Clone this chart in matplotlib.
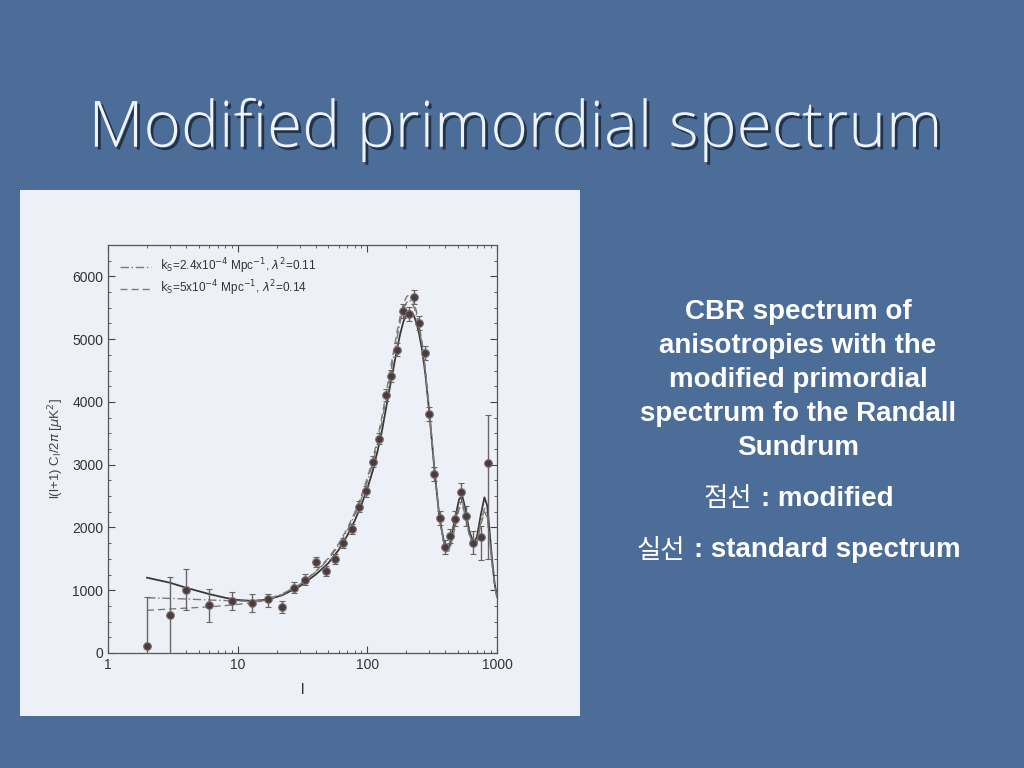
import matplotlib
matplotlib.use('Agg')
import matplotlib.pyplot as plt
import matplotlib.patheffects as pe
from matplotlib.ticker import MultipleLocator, FixedLocator, NullFormatter
import numpy as np

# measured band powers (l, value, lower err, upper err)
ell_pts = [2, 3, 4, 6, 9, 13, 17, 22, 27, 33, 40, 48, 56, 65, 76, 87, 98,
           111, 124, 140, 153, 169, 190, 209, 230, 250, 277, 301, 329, 361,
           398, 435, 476, 530, 580, 656, 748, 847]
pow_pts = [112, 603, 1005, 763, 829, 792, 857, 738, 1038, 1167, 1447, 1300,
           1500, 1750, 1975, 2333, 2575, 3049, 3415, 4109, 4414, 4831, 5447,
           5404, 5677, 5260, 4778, 3804, 2852, 2146, 1685, 1862, 2141, 2558,
           2183, 1756, 1852, 3024]
err_lo = [112, 603, 315, 263, 144, 144, 119, 96, 90, 90, 80, 80, 80, 80, 80,
          90, 90, 90, 90, 100, 100, 100, 110, 110, 110, 110, 110, 110, 110,
          110, 110, 110, 120, 150, 160, 180, 370, 1530]
err_hi = [780, 610, 335, 257, 141, 145, 90, 92, 90, 90, 80, 80, 80, 80, 80,
          90, 90, 90, 90, 100, 100, 100, 110, 110, 110, 110, 110, 110, 110,
          110, 110, 110, 120, 150, 160, 180, 170, 760]

# model curves
ell_curve = [2, 3, 4, 6, 8, 10, 13, 17, 22, 30, 40, 50, 60, 70, 80, 90, 100,
             110, 120, 130, 140, 150, 160, 170, 180, 190, 200, 210, 220, 230,
             240, 250, 265, 280, 300, 330, 360, 400, 430, 470, 510, 540, 570,
             610, 660, 700, 750, 800, 840, 880, 920, 960, 1000]
std_curve = [1200, 1120, 1040, 940, 880, 845, 830, 850, 920, 1060, 1250, 1430,
             1640, 1870, 2110, 2360, 2620, 2900, 3220, 3550, 3920, 4260, 4570,
             4860, 5100, 5280, 5400, 5450, 5430, 5360, 5250, 5100, 4820, 4450,
             3850, 2900, 2150, 1650, 1700, 2100, 2450, 2500, 2300, 1950, 1750,
             1850, 2200, 2480, 2350, 1900, 1450, 1100, 900]
ks24_curve = [880, 870, 860, 845, 835, 830, 825, 860, 940, 1090, 1290, 1490,
              1710, 1950, 2200, 2460, 2730, 3020, 3350, 3700, 4070, 4420, 4740,
              5040, 5290, 5470, 5580, 5620, 5590, 5500, 5370, 5200, 4900, 4500,
              3880, 2910, 2150, 1620, 1650, 2000, 2350, 2400, 2230, 1900, 1700,
              1780, 2080, 2300, 2200, 1800, 1400, 1080, 880]
ks50_curve = [680, 700, 715, 735, 755, 775, 800, 845, 930, 1085, 1300, 1510,
              1740, 1980, 2240, 2510, 2790, 3080, 3420, 3780, 4150, 4500, 4830,
              5130, 5380, 5560, 5670, 5710, 5670, 5570, 5430, 5250, 4940, 4530,
              3900, 2920, 2150, 1610, 1630, 1960, 2300, 2350, 2190, 1880, 1690,
              1760, 2040, 2250, 2160, 1780, 1390, 1070, 870]

yticks = [0, 1000, 2000, 3000, 4000, 5000, 6000]

bg = '#4b6d97'
fig = plt.figure(figsize=(10.24, 7.68), dpi=100)
fig.patch.set_facecolor(bg)

# title
fig.text(0.503, 0.831, 'Modified primordial spectrum', ha='center', va='center',
         fontsize=46, color='#eef3f8', family='Open Sans',
         fontweight='light',
         path_effects=[pe.withSimplePatchShadow(offset=(2, -2), shadow_rgbFace='#1c2c44', alpha=0.9)])

# light panel behind the plot
panel = fig.add_axes([20 / 1024, 1 - 716 / 768, 560 / 1024, 526 / 768])
panel.set_facecolor('#edf1f7')
panel.set_xticks([])
panel.set_yticks([])
for s in panel.spines.values():
    s.set_visible(False)

ax = fig.add_axes([108 / 1024, 1 - 653 / 768, 389 / 1024, 408 / 768])
ax.set_facecolor('#edf1f7')
ax.set_xscale('log')
ax.set_xlim(1, 1000)
ax.set_ylim(0, 6500)

ax.plot(ell_curve, std_curve, color='#3c3838', lw=1.3, label='_nolegend_')
ax.plot(ell_curve, ks24_curve, color='#7a7a7a', lw=1.0, ls=(0, (6, 2, 1, 2)),
        label=r'$\mathrm{k_S}$=2.4x10$^{-4}$ Mpc$^{-1}$, $\lambda^2$=0.11')
ax.plot(ell_curve, ks50_curve, color='#7a7a7a', lw=1.0, ls=(0, (5, 3)),
        label=r'$\mathrm{k_S}$=5x10$^{-4}$ Mpc$^{-1}$, $\lambda^2$=0.14')

ax.errorbar(ell_pts, pow_pts, yerr=[err_lo, err_hi], fmt='o', ms=5.5,
            color='#4a3c3e', mec='#7a7070', mew=0.8, ecolor='#6a6466',
            elinewidth=1.0, capsize=2.5, capthick=0.8, zorder=5)

ax.yaxis.set_major_locator(FixedLocator(yticks))
ax.yaxis.set_minor_locator(MultipleLocator(250))
ax.xaxis.set_minor_formatter(NullFormatter())
ax.tick_params(which='both', direction='in', top=True, right=True,
               colors='#444444', labelsize=10, labelcolor='#333333')
ax.tick_params(which='major', length=5)
ax.tick_params(which='minor', length=2.5)
ax.set_xticks([1, 10, 100, 1000])
ax.set_xticklabels(['1', '10', '100', '1000'])
for lab in ax.get_xticklabels() + ax.get_yticklabels():
    lab.set_family('Liberation Sans')
for s in ax.spines.values():
    s.set_color('#555555')
    s.set_linewidth(0.9)

ax.set_xlabel('l', fontsize=11, color='#333333', labelpad=8,
              family='Liberation Sans')
ax.set_ylabel(r'l(l+1) C$_\mathrm{l}$/2$\pi$ [$\mu$K$^2$]', fontsize=9.5,
              color='#444444', labelpad=4, family='Liberation Sans')

leg = ax.legend(loc='upper left', frameon=False, fontsize=8.5, handlelength=2.6,
                borderaxespad=0.6, labelspacing=0.2)
for t in leg.get_texts():
    t.set_color('#333333')
    t.set_family('Liberation Sans')

# side text
side_font = ['Liberation Sans', 'Noto Sans CJK KR']
side_lines = ['CBR spectrum of', 'anisotropies with the', 'modified primordial',
              'spectrum fo the Randall', 'Sundrum']
side_y = [312, 346, 380, 414, 448]
for txt, yy in zip(side_lines, side_y):
    fig.text(798 / 1024, 1 - yy / 768, txt, ha='center', va='center',
             fontsize=20, fontweight='bold', color='white', family=side_font)

key_words = ['점선', '실선']
key_rest = [': modified', ': standard spectrum']
key_split = [752, 685]
key_y = [499, 550]
for kw, rest, xs, yy in zip(key_words, key_rest, key_split, key_y):
    fig.text(xs / 1024, 1 - yy / 768, kw, ha='right', va='center',
             fontsize=19, color='white', family='Noto Sans CJK KR')
    fig.text((xs + 9) / 1024, 1 - yy / 768, rest, ha='left', va='center',
             fontsize=20, fontweight='bold', color='white', family=side_font)

fig.savefig('out.png', dpi=100, facecolor=bg)
